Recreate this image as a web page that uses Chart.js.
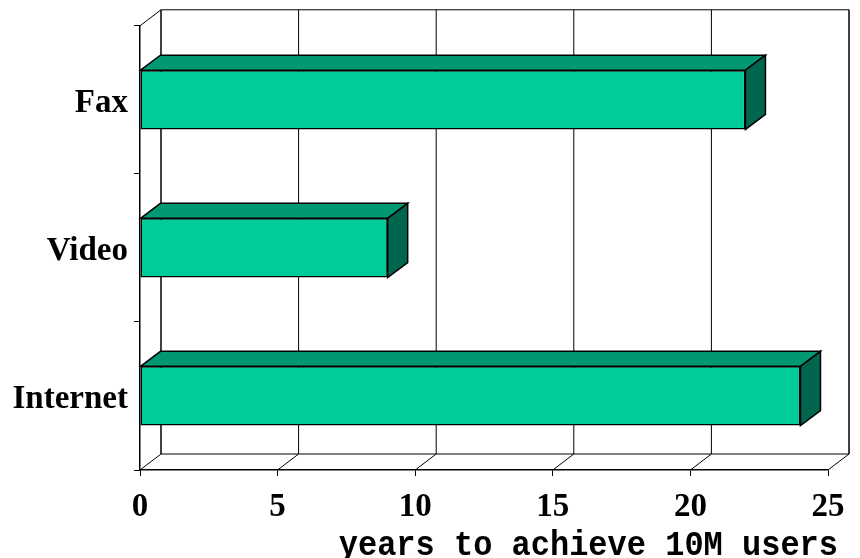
<!DOCTYPE html>
<html>
<head>
<meta charset="utf-8">
<script src="https://cdn.jsdelivr.net/npm/chart.js@4/dist/chart.umd.min.js"></script>
<style>
  html, body { margin: 0; padding: 0; background: #fff; }
  canvas { display: block; }
</style>
</head>
<body>
<canvas id="myChart" width="860" height="558"></canvas>
<script>
const categories = ['Fax', 'Video', 'Internet'];
const years = [22, 9, 24];
const xMax = 25;
const xStep = 5;
const xTitle = 'years to achieve 10M users';

const serif = "'Times New Roman', 'Liberation Serif', serif";
const mono = "'Courier New', 'Liberation Mono', monospace";

// depth of the box walls and of the bars
const wall = { dx: 21, dy: 16 };
const slab = { dx: 20, dy: 15 };

const faceColor = '#00cc99';
const topColor = '#009973';
const endColor = '#006650';

function poly(ctx, pts, fill) {
  ctx.beginPath();
  ctx.moveTo(pts[0][0], pts[0][1]);
  for (let i = 1; i < pts.length; i++) ctx.lineTo(pts[i][0], pts[i][1]);
  ctx.closePath();
  ctx.fillStyle = fill;
  ctx.fill();
  ctx.stroke();
}

const box3d = {
  id: 'box3d',
  beforeDatasetsDraw(chart) {
    const { ctx, chartArea: a, scales: { x } } = chart;
    ctx.save();
    ctx.strokeStyle = '#000';
    ctx.lineWidth = 1;
    ctx.beginPath();
    // back wall
    ctx.rect(a.left + wall.dx, a.top - wall.dy, a.right - a.left, a.bottom - a.top);
    // left wall top edge
    ctx.moveTo(a.left, a.top);
    ctx.lineTo(a.left + wall.dx, a.top - wall.dy);
    // grid on the back wall and on the floor
    x.ticks.forEach(t => {
      const px = x.getPixelForValue(t.value);
      ctx.moveTo(px + wall.dx, a.top - wall.dy);
      ctx.lineTo(px + wall.dx, a.bottom - wall.dy);
      ctx.moveTo(px, a.bottom);
      ctx.lineTo(px + wall.dx, a.bottom - wall.dy);
    });
    ctx.stroke();
    ctx.restore();
  },
  afterDatasetsDraw(chart) {
    const { ctx } = chart;
    const meta = chart.getDatasetMeta(0);
    ctx.save();
    ctx.strokeStyle = '#000';
    ctx.lineWidth = 1.5;
    meta.data.forEach(bar => {
      const p = bar.getProps(['x', 'y', 'base', 'height'], true);
      const top = p.y - p.height / 2;
      const bot = p.y + p.height / 2;
      poly(ctx, [[p.base, top], [p.base + slab.dx, top - slab.dy],
                 [p.x + slab.dx, top - slab.dy], [p.x, top]], topColor);
      poly(ctx, [[p.x, top], [p.x + slab.dx, top - slab.dy],
                 [p.x + slab.dx, bot - slab.dy], [p.x, bot]], endColor);
    });
    ctx.restore();
  },
  afterDraw(chart) {
    const { ctx } = chart;
    ctx.save();
    ctx.fillStyle = '#000';
    ctx.font = 'bold 32px ' + mono;
    ctx.textAlign = 'right';
    ctx.textBaseline = 'alphabetic';
    ctx.translate(838, 555);
    ctx.scale(1, 1.1);
    ctx.fillText(xTitle, 0, 0);
    ctx.restore();
  }
};

const data = {
  labels: categories,
  datasets: [{
    data: years,
    backgroundColor: faceColor,
    borderColor: '#000',
    borderWidth: 1.5,
    borderSkipped: false,
    categoryPercentage: 1,
    barPercentage: 0.4
  }]
};

const config = {
  type: 'bar',
  data: data,
  plugins: [box3d],
  options: {
    indexAxis: 'y',
    responsive: false,
    animation: false,
    devicePixelRatio: 1,
    layout: { padding: { top: 25, right: 32, left: 0, bottom: 0 } },
    plugins: { legend: { display: false }, tooltip: { enabled: false } },
    scales: {
      x: {
        min: 0,
        max: xMax,
        afterFit: s => { s.height = 88; },
        ticks: { stepSize: xStep, color: '#000', padding: 12, font: { family: serif, size: 33, weight: 'bold' } },
        grid: { display: true, drawOnChartArea: false, drawTicks: true, tickLength: 6, color: '#000', lineWidth: 1 },
        border: { display: true, color: '#000', width: 1.5 }
      },
      y: {
        afterFit: s => { s.width = 140; },
        ticks: { color: '#000', padding: 6, labelOffset: 4, font: { family: serif, size: 33, weight: 'bold' } },
        grid: { display: true, offset: true, drawOnChartArea: false, drawTicks: true, tickLength: 6, color: '#000', lineWidth: 1 },
        border: { display: true, color: '#000', width: 1.5 }
      }
    }
  }
};

const myChart = new Chart(document.getElementById('myChart'), config);
</script>
</body>
</html>
